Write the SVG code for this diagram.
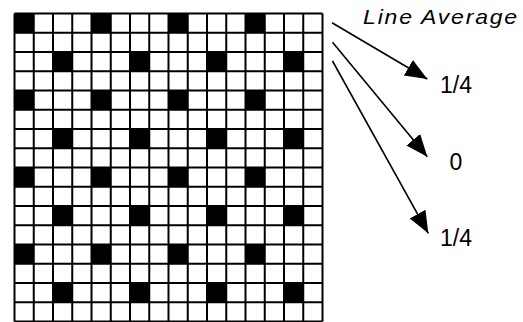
<svg xmlns="http://www.w3.org/2000/svg" width="523" height="322" viewBox="0 0 523 322">
<style>
.cell{fill:#000}
.grid{fill:none;stroke:#000;stroke-width:2}
.conn{fill:none;stroke:#000;stroke-width:1.6}
.lbl{font-family:"Liberation Sans",Arial,sans-serif;font-size:23px;fill:#000;text-anchor:middle}
.title{font-family:"Liberation Sans",Arial,sans-serif;font-size:20px;font-style:italic;fill:#000}
</style>
<defs>
<marker id="ah" markerUnits="userSpaceOnUse" markerWidth="24" markerHeight="20" refX="22" refY="9" orient="auto">
<path d="M0,0 L22,9 L0,18 z" fill="#000"/>
</marker>
</defs>
<rect width="523" height="322" fill="#fff"/>
<g id="grid">
<g id="cells">
<rect class="cell" x="14.5" y="13.5" width="19.25" height="19.25"/>
<rect class="cell" x="91.5" y="13.5" width="19.25" height="19.25"/>
<rect class="cell" x="168.5" y="13.5" width="19.25" height="19.25"/>
<rect class="cell" x="245.5" y="13.5" width="19.25" height="19.25"/>
<rect class="cell" x="53" y="52" width="19.25" height="19.25"/>
<rect class="cell" x="130" y="52" width="19.25" height="19.25"/>
<rect class="cell" x="207" y="52" width="19.25" height="19.25"/>
<rect class="cell" x="284" y="52" width="19.25" height="19.25"/>
<rect class="cell" x="14.5" y="90.5" width="19.25" height="19.25"/>
<rect class="cell" x="91.5" y="90.5" width="19.25" height="19.25"/>
<rect class="cell" x="168.5" y="90.5" width="19.25" height="19.25"/>
<rect class="cell" x="245.5" y="90.5" width="19.25" height="19.25"/>
<rect class="cell" x="53" y="129" width="19.25" height="19.25"/>
<rect class="cell" x="130" y="129" width="19.25" height="19.25"/>
<rect class="cell" x="207" y="129" width="19.25" height="19.25"/>
<rect class="cell" x="284" y="129" width="19.25" height="19.25"/>
<rect class="cell" x="14.5" y="167.5" width="19.25" height="19.25"/>
<rect class="cell" x="91.5" y="167.5" width="19.25" height="19.25"/>
<rect class="cell" x="168.5" y="167.5" width="19.25" height="19.25"/>
<rect class="cell" x="245.5" y="167.5" width="19.25" height="19.25"/>
<rect class="cell" x="53" y="206" width="19.25" height="19.25"/>
<rect class="cell" x="130" y="206" width="19.25" height="19.25"/>
<rect class="cell" x="207" y="206" width="19.25" height="19.25"/>
<rect class="cell" x="284" y="206" width="19.25" height="19.25"/>
<rect class="cell" x="14.5" y="244.5" width="19.25" height="19.25"/>
<rect class="cell" x="91.5" y="244.5" width="19.25" height="19.25"/>
<rect class="cell" x="168.5" y="244.5" width="19.25" height="19.25"/>
<rect class="cell" x="245.5" y="244.5" width="19.25" height="19.25"/>
<rect class="cell" x="53" y="283" width="19.25" height="19.25"/>
<rect class="cell" x="130" y="283" width="19.25" height="19.25"/>
<rect class="cell" x="207" y="283" width="19.25" height="19.25"/>
<rect class="cell" x="284" y="283" width="19.25" height="19.25"/>
</g>
<path class="grid" d="M14.5,13.5V321.5M33.75,13.5V321.5M53,13.5V321.5M72.25,13.5V321.5M91.5,13.5V321.5M110.75,13.5V321.5M130,13.5V321.5M149.25,13.5V321.5M168.5,13.5V321.5M187.75,13.5V321.5M207,13.5V321.5M226.25,13.5V321.5M245.5,13.5V321.5M264.75,13.5V321.5M284,13.5V321.5M303.25,13.5V321.5M322.5,13.5V321.5
M14.5,13.5H322.5M14.5,32.75H322.5M14.5,52H322.5M14.5,71.25H322.5M14.5,90.5H322.5M14.5,109.75H322.5M14.5,129H322.5M14.5,148.25H322.5M14.5,167.5H322.5M14.5,186.75H322.5M14.5,206H322.5M14.5,225.25H322.5M14.5,244.5H322.5M14.5,263.75H322.5M14.5,283H322.5M14.5,302.25H322.5M14.5,321.5H322.5"/>
</g>
<g id="connectors">
<line class="conn" x1="332" y1="22.7" x2="427.3" y2="79" marker-end="url(#ah)"/>
<line class="conn" x1="332.5" y1="42.3" x2="427.3" y2="156.7" marker-end="url(#ah)"/>
<line class="conn" x1="332.5" y1="61" x2="428.3" y2="233.3" marker-end="url(#ah)"/>
</g>
<g id="title"><text class="title" transform="scale(1.15,1)" x="315.7" y="24" textLength="134" lengthAdjust="spacing">Line Average</text></g>
<g id="label1"><text class="lbl" x="456" y="93.3">1/4</text></g>
<g id="label2"><text class="lbl" x="456" y="169.5">0</text></g>
<g id="label3"><text class="lbl" x="456" y="246">1/4</text></g>
</svg>
